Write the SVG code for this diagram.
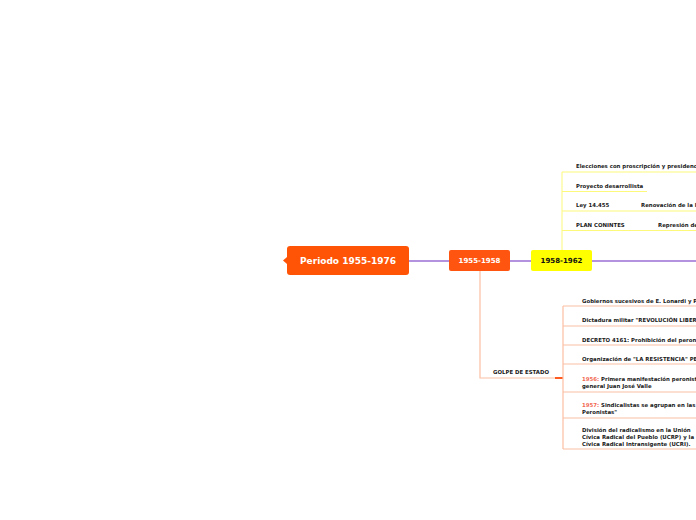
<svg xmlns="http://www.w3.org/2000/svg" width="696" height="520" viewBox="0 0 696 520">
<style>
.t{font-family:"DejaVu Sans",Verdana,sans-serif;font-weight:bold;font-size:5.4px;fill:#1a1a1a}
.r{fill:#f26a55}
.yl{stroke:#fdf97a;stroke-width:1;fill:none}
.ol{stroke:#fcbfa3;stroke-width:1.2;fill:none}
.pl{stroke:#9a6fd6;stroke-width:1.6;fill:none}
.big{font-family:"DejaVu Sans",Verdana,sans-serif;font-weight:bold;font-size:9px;fill:#fff}
.mid{font-family:"DejaVu Sans",Verdana,sans-serif;font-weight:bold;font-size:7px}
</style>
<rect width="696" height="520" fill="#fff"/>
<g id="connectors">
<path class="pl" d="M409 261H449M510 261H531M592 261H696"/>
<path class="yl" d="M562 250V172H696M562 191.5H647M562 211H696M562 230.5H696"/>
<path class="ol" d="M480 271V378H555"/>
<path d="M555 378H563" stroke="#ff5a1f" stroke-width="2"/>
<path class="ol" d="M563 306V449M563 306H696M563 326H696M563 345H696M563 364H696M563 392H696M563 418H696M563 449H696"/>
</g>
<g id="root">
<polygon points="283,260.5 287,257 287,264" fill="#ff5406"/>
<rect x="287" y="246" width="122" height="29" rx="3" fill="#ff5406"/>
<text class="big" x="348" y="264" text-anchor="middle">Periodo 1955-1976</text>
</g>
<g id="n1955">
<rect x="449" y="250" width="61" height="21" rx="2" fill="#ff5511"/>
<text class="mid" x="479.5" y="263" text-anchor="middle" fill="#fff">1955-1958</text>
</g>
<g id="n1958">
<rect x="531" y="250" width="61" height="21" rx="2" fill="#ffff00"/>
<text class="mid" x="561.5" y="263" text-anchor="middle" fill="#111">1958-1962</text>
</g>
<g id="y1"><text class="t" x="576" y="167.5">Elecciones con proscripción y presidencia de Frondizi</text></g>
<g id="y2"><text class="t" x="576" y="188">Proyecto desarrollista</text></g>
<g id="y3"><text class="t" x="576" y="207">Ley 14.455</text></g>
<g id="y3a"><text class="t" x="641" y="207">Renovación de la ley</text></g>
<g id="y4"><text class="t" x="576" y="227">PLAN CONINTES</text></g>
<g id="y4a"><text class="t" x="658" y="227">Represión de</text></g>
<g id="golpe"><text class="t" x="493" y="374">GOLPE DE ESTADO</text></g>
<g id="o1"><text class="t" x="582" y="303">Gobiernos sucesivos de E. Lonardi y P. Aramburu</text></g>
<g id="o2"><text class="t" x="582" y="322">Dictadura militar "REVOLUCIÓN LIBERTADORA"</text></g>
<g id="o3"><text class="t" x="582" y="342">DECRETO 4161: Prohibición del peronismo</text></g>
<g id="o4"><text class="t" x="582" y="361">Organización de "LA RESISTENCIA" PERONISTA</text></g>
<g id="o5"><text class="t" x="582" y="381"><tspan class="r">1956:</tspan> Primera manifestación peronista</text><text class="t" x="582" y="388">general Juan José Valle</text></g>
<g id="o6"><text class="t" x="582" y="406.5"><tspan class="r">1957:</tspan> Sindicalistas se agrupan en las "62</text><text class="t" x="582" y="413.5">Peronistas"</text></g>
<g id="o7"><text class="t" x="582" y="432">División del radicalismo en  la Unión</text><text class="t" x="582" y="439">Cívica Radical del Pueblo (UCRP) y la</text><text class="t" x="582" y="446">Cívica Radical Intransigente (UCRI).</text></g>
</svg>
